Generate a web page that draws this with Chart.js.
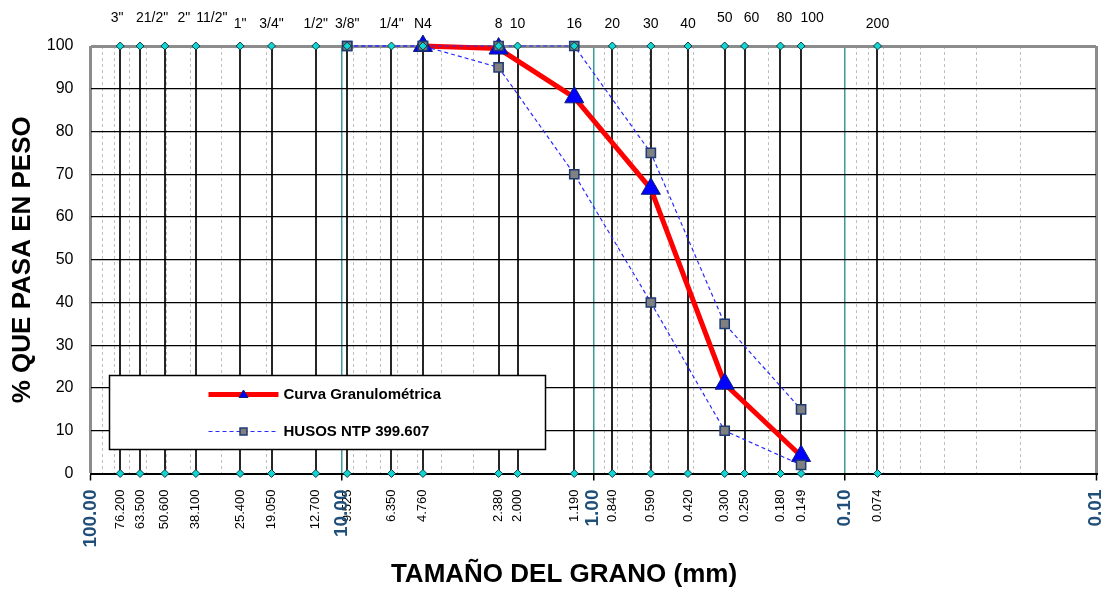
<!DOCTYPE html>
<html lang="es">
<head>
<meta charset="utf-8">
<title>Curva granulométrica</title>
<script src="https://cdn.jsdelivr.net/npm/chart.js@4.4.1/dist/chart.umd.min.js"></script>
<style>
  html, body { margin: 0; padding: 0; background: #ffffff; }
  #wrap { width: 1112px; height: 589px; position: relative; }
</style>
</head>
<body>
<div id="wrap"><canvas id="chart"></canvas></div>
<script>
// Sieve designations and openings (mm)
const sieveNames  = ['3"', '21/2"', '2"', '11/2"', '1"', '3/4"', '1/2"', '3/8"', '1/4"', 'N4', '8', '10', '16', '20', '30', '40', '50', '60', '80', '100', '200'];
const sieveSizes  = [76.2, 63.5, 50.6, 38.1, 25.4, 19.05, 12.7, 9.525, 6.35, 4.76, 2.38, 2.0, 1.19, 0.84, 0.59, 0.42, 0.3, 0.25, 0.18, 0.149, 0.074];
const sieveLabels = ['76.200', '63.500', '50.600', '38.100', '25.400', '19.050', '12.700', '9.525', '6.350', '4.760', '2.380', '2.000', '1.190', '0.840', '0.590', '0.420', '0.300', '0.250', '0.180', '0.149', '0.074'];

// Log-scale decades on the grain size axis
const decadeValues = [100, 10, 1, 0.1, 0.01];
const decadeLabels = ['100.00', '10.00', '1.00', '0.10', '0.01'];

// Grading curve of the sample (% passing)
const curveSizes   = [4.76, 2.38, 1.19, 0.59, 0.3, 0.149];
const curvePassing = [100, 99.4, 88, 66.6, 21, 4.1];

// Grading limits NTP 399.607
const bandSizes = [9.525, 4.76, 2.38, 1.19, 0.59, 0.3, 0.149];
const bandUpper = [100, 100, 100, 100, 75, 35, 15];
const bandLower = [100, 100, 95, 70, 40, 10, 2];

const legendLabels = ['Curva Granulométrica', 'HUSOS NTP 399.607'];

// designations written on the upper row above the chart
const raisedNames = new Set(['3"', '21/2"', '2"', '11/2"', '50', '60', '80', '100']);
// sideways nudge (px) that keeps crowded designations apart
const topLabelNudge = { '3"': -3, '21/2"': 12, '2"': 19, '11/2"': 16, '60': 7, '80': 4, '100': 11 };

// dashed minor grid: 2..9 within every decade
const minorValues = [];
[0.01, 0.1, 1, 10].forEach(d => { for (let m = 2; m <= 9; m++) minorValues.push(+(m * d).toPrecision(3)); });

const FONT = "'Liberation Sans', Arial, Helvetica, sans-serif";
Chart.defaults.font.family = FONT;
Chart.defaults.color = '#000';

const isDecade = v => decadeValues.includes(v);
const bottomLabel = v => {
  const d = decadeValues.indexOf(v);
  if (d >= 0) return decadeLabels[d];
  const s = sieveSizes.indexOf(v);
  return s >= 0 ? sieveLabels[s] : '';
};
const topLabel = v => {
  const s = sieveSizes.indexOf(v);
  if (s < 0) return '';
  const n = sieveNames[s];
  return raisedNames.has(n) ? [n, ''] : n;
};

const sieveMarks = sieveSizes.map(s => ({ x: s, y: 100 })).concat(sieveSizes.map(s => ({ x: s, y: 0 })));

// shifts the crowded sieve designations of the top axis sideways
const nudgeTopLabels = {
  id: 'nudgeTopLabels',
  beforeDraw(chart) {
    const sc = chart.scales.xTop;
    if (!sc) return;
    sc.getLabelItems().forEach(item => {
      const name = Array.isArray(item.label) ? item.label[0] : item.label;
      const dx = topLabelNudge[name];
      if (dx && !item.nudged) {
        item.options.translation[0] += dx;
        item.nudged = true;
      }
    });
  }
};

// boxed legend inside the plot area
const boxLegend = {
  id: 'boxLegend',
  afterDatasetsDraw(chart) {
    const { ctx, chartArea: ca } = chart;
    const x0 = ca.left + 19, y0 = ca.bottom - 98, w = 436, h = 74;
    ctx.save();
    ctx.fillStyle = '#ffffff';
    ctx.fillRect(x0, y0, w, h);
    ctx.strokeStyle = '#000000';
    ctx.lineWidth = 1.5;
    ctx.strokeRect(x0, y0, w, h);

    const sx1 = x0 + 99, sx2 = x0 + 169, mx = x0 + 134, tx = x0 + 174;
    const r1 = y0 + 19, r2 = y0 + 56;

    // row 1: grading curve
    ctx.strokeStyle = '#ff0000';
    ctx.lineWidth = 5;
    ctx.beginPath(); ctx.moveTo(sx1, r1); ctx.lineTo(sx2, r1); ctx.stroke();
    ctx.fillStyle = '#0000ff';
    ctx.strokeStyle = '#10206e';
    ctx.lineWidth = 1;
    ctx.beginPath();
    ctx.moveTo(mx, r1 - 4.5); ctx.lineTo(mx + 4.5, r1 + 3); ctx.lineTo(mx - 4.5, r1 + 3); ctx.closePath();
    ctx.fill(); ctx.stroke();

    // row 2: grading limits
    ctx.strokeStyle = '#2a2aff';
    ctx.lineWidth = 1.2;
    ctx.setLineDash([4, 3]);
    ctx.beginPath(); ctx.moveTo(sx1, r2); ctx.lineTo(sx2, r2); ctx.stroke();
    ctx.setLineDash([]);
    ctx.fillStyle = '#808080';
    ctx.strokeStyle = '#1f3b73';
    ctx.lineWidth = 1.5;
    ctx.fillRect(mx - 3.5, r2 - 3.5, 7, 7);
    ctx.strokeRect(mx - 3.5, r2 - 3.5, 7, 7);

    ctx.fillStyle = '#000000';
    ctx.font = 'bold 15px ' + FONT;
    ctx.textBaseline = 'middle';
    ctx.textAlign = 'left';
    ctx.fillText(legendLabels[0], tx, r1);
    ctx.fillText(legendLabels[1], tx, r2);
    ctx.restore();
  }
};

new Chart(document.getElementById('chart'), {
  type: 'scatter',
  data: {
    datasets: [
      {
        label: 'Tamices',
        data: sieveMarks,
        showLine: false,
        pointStyle: 'rectRot',
        pointRadius: 4,
        pointBackgroundColor: '#12d6d6',
        pointBorderColor: '#0d3b3b',
        pointBorderWidth: 1,
        clip: false,
        order: 0
      },
      {
        label: legendLabels[1],
        data: bandSizes.map((s, i) => ({ x: s, y: bandUpper[i] })),
        showLine: true,
        borderColor: '#2a2aff',
        borderWidth: 1.2,
        borderDash: [4, 3],
        pointStyle: 'rect',
        pointRadius: 6.5,
        pointBackgroundColor: '#808080',
        pointBorderColor: '#1f3b73',
        pointBorderWidth: 1.5,
        clip: false,
        order: 1
      },
      {
        label: legendLabels[1],
        data: bandSizes.map((s, i) => ({ x: s, y: bandLower[i] })),
        showLine: true,
        borderColor: '#2a2aff',
        borderWidth: 1.2,
        borderDash: [4, 3],
        pointStyle: 'rect',
        pointRadius: 6.5,
        pointBackgroundColor: '#808080',
        pointBorderColor: '#1f3b73',
        pointBorderWidth: 1.5,
        clip: false,
        order: 1
      },
      {
        label: legendLabels[0],
        data: curveSizes.map((s, i) => ({ x: s, y: curvePassing[i] })),
        showLine: true,
        borderColor: '#ff0000',
        borderWidth: 5,
        pointStyle: 'triangle',
        pointRadius: 11,
        pointBackgroundColor: '#0000ff',
        pointBorderColor: '#10206e',
        pointBorderWidth: 1,
        clip: false,
        order: 2
      }
    ]
  },
  options: {
    responsive: true,
    maintainAspectRatio: false,
    animation: false,
    devicePixelRatio: 1,
    events: [],
    layout: { padding: { left: 16, right: 0, top: 0, bottom: 0 } },
    plugins: {
      legend: { display: false },
      tooltip: { enabled: false },
      title: {
        display: true,
        position: 'bottom',
        text: 'TAMAÑO DEL GRANO (mm)',
        color: '#000',
        font: { size: 26, weight: 'bold', lineHeight: 1.1 },
        padding: { top: 0, bottom: 0 }
      }
    },
    scales: {
      xMinor: {
        type: 'logarithmic',
        position: 'bottom',
        reverse: true,
        min: 0.01,
        max: 100,
        afterBuildTicks: s => { s.ticks = minorValues.map(v => ({ value: v })); },
        afterFit: s => { s.height = 0; },
        ticks: { display: false },
        grid: { color: '#c0c0c0', lineWidth: 1, drawTicks: false, z: -2 },
        border: { display: false, dash: [3, 3] }
      },
      x: {
        type: 'logarithmic',
        position: 'bottom',
        reverse: true,
        min: 0.01,
        max: 100,
        afterBuildTicks: s => {
          s.ticks = sieveSizes.concat(decadeValues).sort((a, b) => a - b).map(v => ({ value: v }));
        },
        afterFit: s => { s.height = 589 - 473.5 - 28.6; },
        ticks: {
          autoSkip: false,
          minRotation: 90,
          maxRotation: 90,
          padding: 9,
          callback: v => bottomLabel(v),
          font: c => isDecade(c.tick.value) ? { size: 19, weight: 'bold' } : { size: 13 },
          color: c => isDecade(c.tick.value) ? '#1f4e79' : '#000'
        },
        grid: {
          color: c => {
            const v = c.tick.value;
            if (v === 100 || v === 0.01) return '#8c8c8c';
            return isDecade(v) ? '#3a9c9c' : '#262626';
          },
          lineWidth: c => {
            const v = c.tick.value;
            if (v === 100 || v === 0.01) return 3;
            return isDecade(v) ? 1.5 : 2;
          },
          tickLength: 7,
          tickWidth: 1.5,
          tickColor: c => isDecade(c.tick.value) ? '#000' : 'rgba(0,0,0,0)'
        },
        border: { display: true, color: '#000', width: 2 }
      },
      xTop: {
        type: 'logarithmic',
        position: 'top',
        reverse: true,
        min: 0.01,
        max: 100,
        afterBuildTicks: s => {
          s.ticks = sieveSizes.slice().sort((a, b) => a - b).map(v => ({ value: v }));
        },
        afterFit: s => { s.height = 46; },
        ticks: {
          autoSkip: false,
          minRotation: 0,
          maxRotation: 0,
          padding: 18.25,
          font: { size: 14, lineHeight: 0.4643 },
          color: '#000',
          callback: v => topLabel(v)
        },
        grid: { display: false, drawTicks: false },
        border: { display: false }
      },
      y: {
        position: 'left',
        min: 0,
        max: 100,
        afterFit: s => { s.width = 90.5 - 16; },
        ticks: { stepSize: 10, padding: 17, font: { size: 16 }, color: '#000' },
        grid: {
          color: c => c.tick.value === 100 ? '#8c8c8c' : '#000',
          lineWidth: c => c.tick.value === 100 ? 3 : (c.tick.value === 0 ? 2 : 1.3),
          drawTicks: false
        },
        border: { display: false },
        title: {
          display: true,
          text: '% QUE PASA EN PESO',
          color: '#000',
          font: { size: 26, weight: 'bold', lineHeight: 0.5 },
          padding: 0
        }
      },
      yRight: {
        position: 'right',
        min: 0,
        max: 100,
        afterFit: s => { s.width = 16; },
        ticks: { display: false },
        grid: { display: false, drawTicks: false },
        border: { display: false }
      }
    }
  },
  plugins: [nudgeTopLabels, boxLegend]
});
</script>
</body>
</html>
